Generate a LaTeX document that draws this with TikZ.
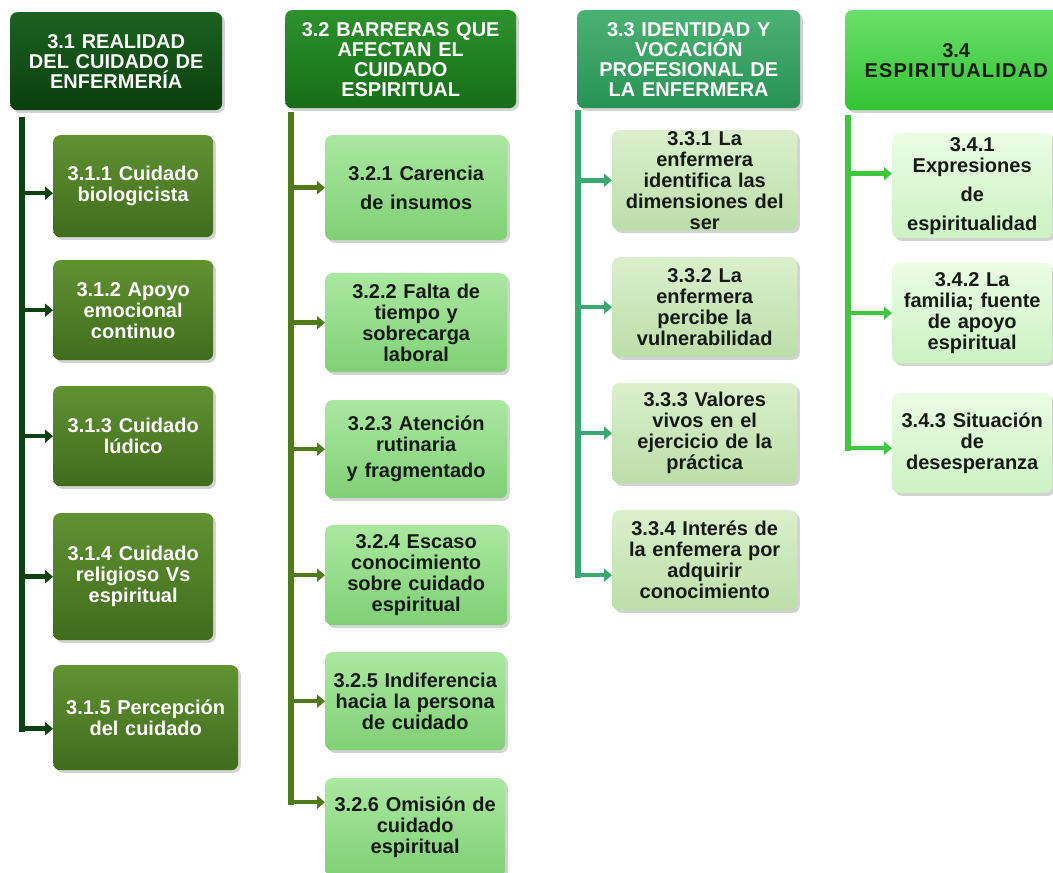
\documentclass[tikz,border=0pt]{standalone}
\usepackage{fontspec}
\setmainfont{Liberation Sans}
\usetikzlibrary{arrows.meta,shadows}

\definecolor{hdoneT}{RGB}{28,98,32}
\definecolor{hdoneB}{RGB}{10,62,14}
\definecolor{bxoneT}{RGB}{96,146,50}
\definecolor{bxoneB}{RGB}{64,108,28}
\definecolor{trone}{RGB}{12,66,16}
\definecolor{hdtwoT}{RGB}{44,146,44}
\definecolor{hdtwoB}{RGB}{22,110,22}
\definecolor{trtwo}{RGB}{78,122,26}
\definecolor{bxtwoT}{RGB}{170,232,160}
\definecolor{bxtwoB}{RGB}{128,208,118}
\definecolor{hdthreeT}{RGB}{74,178,114}
\definecolor{hdthreeB}{RGB}{40,146,86}
\definecolor{trthree}{RGB}{56,170,112}
\definecolor{bxthreeT}{RGB}{218,240,204}
\definecolor{bxthreeB}{RGB}{188,222,168}
\definecolor{hdfourT}{RGB}{106,224,106}
\definecolor{hdfourB}{RGB}{50,196,50}
\definecolor{trfour}{RGB}{62,200,62}
\definecolor{bxfourT}{RGB}{234,253,228}
\definecolor{bxfourB}{RGB}{204,242,194}
\definecolor{txtdark}{RGB}{22,26,22}

\begin{document}
\begin{tikzpicture}[x=1pt,y=-1pt,
  every node/.style={anchor=north west,align=center,rounded corners=7pt,
    inner xsep=4pt,inner ysep=1pt,drop shadow={opacity=0.35},
    font=\bfseries\fontsize{20}{21}\selectfont},
  hdone/.style={top color=hdoneT,bottom color=hdoneB,text=white,
    minimum width=212,text width=204,minimum height=98,font=\bfseries\fontsize{20}{20}\selectfont},
  hdtwo/.style={top color=hdtwoT,bottom color=hdtwoB,text=white,
    minimum width=231,text width=223,minimum height=98,font=\bfseries\fontsize{20}{20}\selectfont},
  hdthree/.style={top color=hdthreeT,bottom color=hdthreeB,text=white,
    minimum width=223,text width=215,minimum height=98,font=\bfseries\fontsize{20}{20}\selectfont},
  hdfour/.style={top color=hdfourT,bottom color=hdfourB,text=txtdark,
    minimum width=222,text width=214,minimum height=100,font=\bfseries\fontsize{20}{20}\selectfont},
  bxone/.style={top color=bxoneT,bottom color=bxoneB,text=white,
    minimum width=160,text width=152,minimum height=100},
  bxtwo/.style={top color=bxtwoT,bottom color=bxtwoB,text=txtdark,
    minimum width=182,text width=174,minimum height=99},
  bxthree/.style={top color=bxthreeT,bottom color=bxthreeB,text=txtdark,
    minimum width=183,text width=177,minimum height=100},
  bxfour/.style={top color=bxfourT,bottom color=bxfourB,text=txtdark,
    minimum width=160,text width=152,minimum height=100},
  trunk/.style={line width=6pt,line cap=rect},
  arr/.style={line width=4.5pt,-{Triangle[length=8pt,width=13pt]}}]
\clip (0,0) rectangle (1053,873);
%\draw[thin,gray!40] (0,0) grid[step=50] (1053,873);

% column 1
\node[hdone] (h1) at (10,12) {3.1 REALIDAD\\DEL CUIDADO DE\\ENFERMERÍA};
\node[bxone,minimum width=157,minimum height=102] (b11) at (53,135) {3.1.1 Cuidado\\biologicista};
\node[bxone] (b12) at (53,260) {3.1.2 Apoyo\\emocional\\continuo};
\node[bxone] (b13) at (53,386) {3.1.3 Cuidado\\lúdico};
\node[bxone,minimum height=127] (b14) at (53,513) {3.1.4 Cuidado\\religioso Vs\\espiritual};
\node[bxone,minimum width=185,text width=177,minimum height=105] (b15) at (53,665) {3.1.5 Percepción\\del cuidado};

\coordinate (t1) at (22,120);
\coordinate (e11) at ([yshift=-7pt]b11.west);
\coordinate (e15) at ([yshift=-11pt]b15.west);
\draw[trunk,trone] (t1) -- (t1 |- e15);
\draw[arr,trone] (t1 |- e11) -- (e11);
\draw[arr,trone] (t1 |- b12.west) -- (b12.west);
\draw[arr,trone] (t1 |- b13.west) -- (b13.west);
\draw[arr,trone] (t1 |- b14.west) -- (b14.west);
\draw[arr,trone] (t1 |- e15) -- (e15);

% column 2
\node[hdtwo] (h2) at (285,10) {3.2 BARRERAS QUE\\AFECTAN EL\\CUIDADO\\ESPIRITUAL};
\node[bxtwo,minimum height=105] (b21) at (325,135) {3.2.1 Carencia\\[8pt]de insumos};
\node[bxtwo] (b22) at (325,273) {3.2.2 Falta de\\tiempo y\\sobrecarga\\laboral};
\node[bxtwo,minimum height=98] (b23) at (325,400) {3.2.3 Atención\\rutinaria\\[5pt]y fragmentado};
\node[bxtwo,minimum height=100] (b24) at (325,525) {3.2.4 Escaso\\conocimiento\\sobre cuidado\\espiritual};
\node[bxtwo,minimum width=180,text width=172,minimum height=98] (b25) at (325,652) {3.2.5 Indiferencia\\hacia la persona\\de cuidado};
\node[bxtwo,minimum width=180,text width=172,minimum height=98] (b26) at (325,778) {3.2.6 Omisión de\\cuidado\\espiritual};

\coordinate (t2) at (291,115);
\coordinate (e26) at ([yshift=25pt]b26.west);
\draw[trunk,trtwo] (t2) -- (t2 |- e26);
\draw[arr,trtwo] (t2 |- b21.west) -- (b21.west);
\draw[arr,trtwo] (t2 |- b22.west) -- (b22.west);
\draw[arr,trtwo] (t2 |- b23.west) -- (b23.west);
\draw[arr,trtwo] (t2 |- b24.west) -- (b24.west);
\draw[arr,trtwo] (t2 |- b25.west) -- (b25.west);
\draw[arr,trtwo] (t2 |- e26) -- (e26);

% column 3
\node[hdthree] (h3) at (577,10) {3.3 IDENTIDAD Y\\VOCACIÓN\\PROFESIONAL DE\\LA ENFERMERA};
\node[bxthree,minimum width=184] (b31) at (612,130) {3.3.1 La\\enfermera\\identifica las\\dimensiones del\\ser};
\node[bxthree] (b32) at (612,257) {3.3.2 La\\enfermera\\percibe la\\vulnerabilidad};
\node[bxthree] (b33) at (612,383) {3.3.3 Valores\\vivos en el\\ejercicio de la\\práctica};
\node[bxthree] (b34) at (612,510) {3.3.4 Interés de\\la enfemera por\\adquirir\\conocimiento};

\coordinate (t3) at (578,113);
\coordinate (e34) at ([yshift=-15pt]b34.west);
\draw[trunk,trthree] (t3) -- (t3 |- e34);
\draw[arr,trthree] (t3 |- b31.west) -- (b31.west);
\draw[arr,trthree] (t3 |- b32.west) -- (b32.west);
\draw[arr,trthree] (t3 |- b33.west) -- (b33.west);
\draw[arr,trthree] (t3 |- e34) -- (e34);

% column 4
\node[hdfour] (h4) at (845,10) {3.4\\\addfontfeature{LetterSpace=6}ESPIRITUALIDAD};
\node[bxfour,minimum height=105] (b41) at (892,133) {3.4.1\\Expresiones\\[8pt]de\\[8pt]espiritualidad};
\node[bxfour] (b42) at (892,263) {3.4.2 La\\familia; fuente\\de apoyo\\espiritual};
\node[bxfour] (b43) at (892,393) {3.4.3 Situación\\de\\desesperanza};

\coordinate (t4) at (848,118);
\coordinate (e41) at ([yshift=12pt]b41.west);
\coordinate (e43) at ([yshift=-5pt]b43.west);
\draw[trunk,trfour] (t4) -- (t4 |- e43);
\draw[arr,trfour] (t4 |- e41) -- (e41);
\draw[arr,trfour] (t4 |- b42.west) -- (b42.west);
\draw[arr,trfour] (t4 |- e43) -- (e43);
\end{tikzpicture}
\end{document}
